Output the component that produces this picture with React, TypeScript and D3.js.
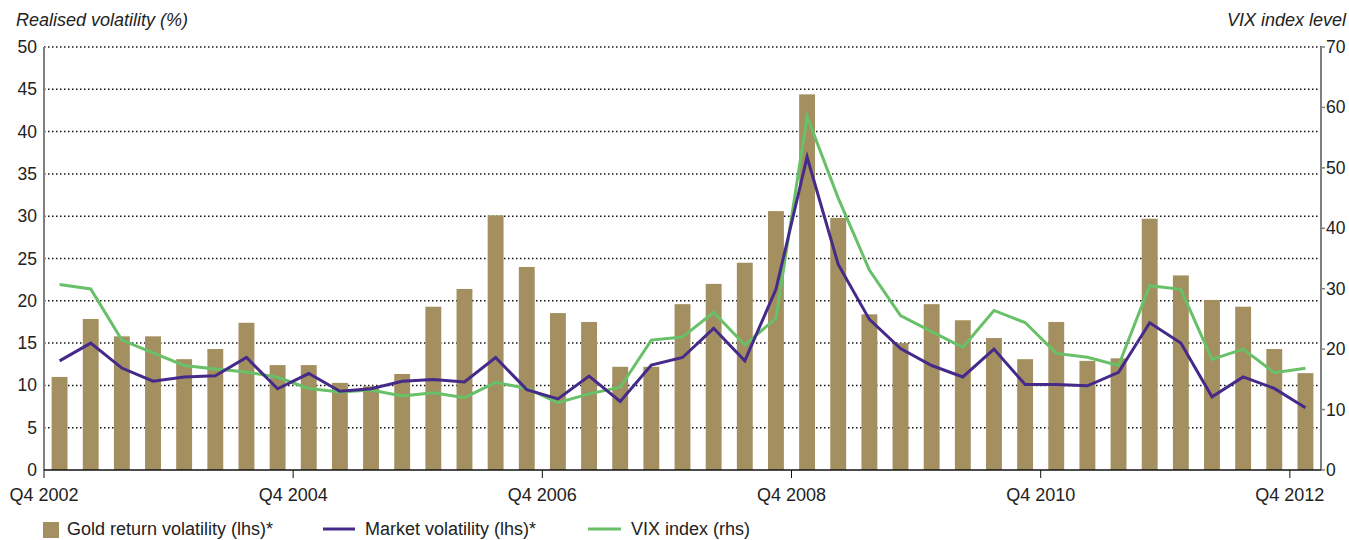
import React from "react";
import * as d3 from "d3";

const quarters: string[] = d3.range(41).map((i) => {
  const q = ((3 + i) % 4) + 1;
  const y = 2002 + Math.floor((3 + i) / 4);
  return `Q${q} ${y}`;
});

const goldVol: number[] = [
  11.0, 17.85, 15.8, 15.8, 13.1, 14.3, 17.4, 12.4, 12.4, 10.3,
  9.9, 11.35, 19.3, 21.4, 30.1, 24.0, 18.55, 17.5, 12.2, 12.2,
  19.6, 22.0, 24.5, 30.6, 44.4, 29.8, 18.4, 15.0, 19.6, 17.7,
  15.6, 13.1, 17.5, 12.9, 13.2, 29.7, 23.0, 20.1, 19.3, 14.3, 11.45,
];

const marketVol: number[] = [
  12.9, 15.0, 12.05, 10.5, 11.0, 11.15, 13.3, 9.6, 11.4, 9.3,
  9.6, 10.5, 10.7, 10.4, 13.3, 9.5, 8.4, 11.1, 8.1, 12.4,
  13.3, 16.75, 12.9, 21.35, 37.0, 24.3, 17.8, 14.35, 12.35, 11.0,
  14.3, 10.1, 10.1, 9.95, 11.55, 17.4, 15.0, 8.65, 11.0, 9.65, 7.35,
];

const vix: number[] = [
  30.7, 29.97, 21.5, 19.4, 17.3, 16.7, 16.2, 15.35, 13.5, 12.9,
  13.25, 12.25, 12.8, 11.97, 14.5, 13.5, 11.15, 12.6, 13.7, 21.5,
  22.0, 26.1, 20.7, 25.1, 58.5, 45.0, 33.1, 25.55, 22.9, 20.3,
  26.4, 24.4, 19.3, 18.65, 17.3, 30.5, 29.9, 18.3, 20.0, 16.1, 16.85,
];

const xTickLabels: string[] = ["Q4 2002", "Q4 2004", "Q4 2006", "Q4 2008", "Q4 2010", "Q4 2012"];
const leftTicks: number[] = [0, 5, 10, 15, 20, 25, 30, 35, 40, 45, 50];
const rightTicks: number[] = [0, 10, 20, 30, 40, 50, 60, 70];

const W = 1349;
const H = 540;
const M = { left: 44, right: 1321, top: 47, bottom: 470 };
const FONT = "'Liberation Sans', Arial, sans-serif";
const GOLD = "#a38f5f";
const PURPLE = "#452a8a";
const GREEN = "#68c068";

export default function App() {
  const x = d3.scaleBand<string>().domain(quarters).range([M.left, M.right]).paddingInner(0.49).paddingOuter(0.245);
  const step = (M.right - M.left) / quarters.length;
  const yL = d3.scaleLinear().domain([0, 50]).range([M.bottom, M.top]);
  const yR = d3.scaleLinear().domain([0, 70]).range([M.bottom, M.top]);
  const cx = (i: number) => M.left + step * (i + 0.5);
  const mkLine = d3.line<number>().x((_, i) => cx(i)).y((d) => yL(d));
  const vixLine = d3.line<number>().x((_, i) => cx(i)).y((d) => yR(d));
  const tickX = (lab: string) => M.left + step * quarters.indexOf(lab);

  return (
    <div style={{ position: "absolute", left: 0, top: 0 }}>
      <svg width={W} height={H} style={{ display: "block", fontFamily: FONT }}>
        <rect width={W} height={H} fill="#fff" />
        <text x={16} y={26} fontSize={18} fontStyle="italic" fill="#222">Realised volatility (%)</text>
        <text x={1346} y={26} fontSize={18} fontStyle="italic" fill="#222" textAnchor="end">VIX index level</text>

        {leftTicks.filter((t) => t > 0).map((t) => (
          <line key={"g" + t} x1={M.left} x2={M.right} y1={yL(t)} y2={yL(t)} stroke="#111" strokeWidth={1.5} strokeDasharray="1.5,2.5" />
        ))}

        {goldVol.map((v, i) => (
          <rect key={"b" + i} x={x(quarters[i])!} width={x.bandwidth()} y={yL(v)} height={yL(0) - yL(v)} fill={GOLD} />
        ))}

        <path d={vixLine(vix)!} fill="none" stroke={GREEN} strokeWidth={3} strokeLinejoin="miter" />
        <path d={mkLine(marketVol)!} fill="none" stroke={PURPLE} strokeWidth={3} strokeLinejoin="miter" />

        <line x1={M.left} x2={M.left} y1={M.top} y2={M.bottom} stroke="#808080" strokeWidth={2} />
        <line x1={M.right} x2={M.right} y1={M.top} y2={M.bottom} stroke="#808080" strokeWidth={2} />
        <line x1={M.left} x2={M.right} y1={M.bottom} y2={M.bottom} stroke="#111" strokeWidth={1.5} />

        {leftTicks.map((t) => (
          <text key={"l" + t} x={37} y={yL(t) + 6} fontSize={17.5} fill="#222" textAnchor="end">{t}</text>
        ))}
        {rightTicks.map((t) => (
          <g key={"r" + t}>
            <line x1={M.right} x2={M.right + 4} y1={yR(t)} y2={yR(t)} stroke="#808080" strokeWidth={1.5} />
            <text x={1326} y={yR(t) + 6} fontSize={17.5} fill="#222">{t}</text>
          </g>
        ))}

        {xTickLabels.map((lab) => (
          <g key={lab}>
            <line x1={tickX(lab)} x2={tickX(lab)} y1={M.bottom} y2={M.bottom + 8} stroke="#111" strokeWidth={1} />
            <text x={tickX(lab)} y={501} fontSize={18} fill="#222" textAnchor="middle">{lab}</text>
          </g>
        ))}

        <g fontSize={18} fill="#222">
          <rect x={43} y={522} width={16} height={16} fill={GOLD} />
          <text x={67} y={535}>Gold return volatility (lhs)*</text>
          <line x1={323} x2={355} y1={529} y2={529} stroke={PURPLE} strokeWidth={3} />
          <text x={365} y={535}>Market volatility (lhs)*</text>
          <line x1={588} x2={621} y1={529} y2={529} stroke={GREEN} strokeWidth={3} />
          <text x={631} y={535}>VIX index (rhs)</text>
        </g>
      </svg>
    </div>
  );
}
